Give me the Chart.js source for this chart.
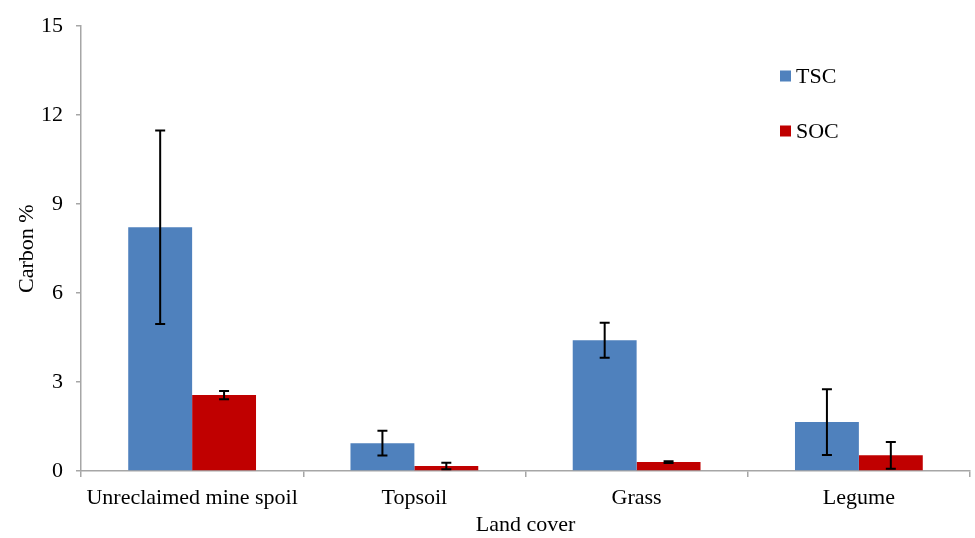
<!DOCTYPE html>
<html>
<head>
<meta charset="utf-8">
<script src="https://cdn.jsdelivr.net/npm/chart.js@4/dist/chart.umd.min.js"></script>
<style>
  html, body { margin: 0; padding: 0; background: #fff; }
  #wrap { width: 975px; height: 538px; }
</style>
</head>
<body>
<div id="wrap"><canvas id="c" width="975" height="538"></canvas></div>
<script>
// Land cover categories and carbon content (%)
const categories = ['Unreclaimed mine spoil', 'Topsoil', 'Grass', 'Legume'];
const tscValues = [8.22, 0.94, 4.41, 1.65];
const tscErrors = [3.26, 0.42, 0.59, 1.11];
const socValues = [2.56, 0.17, 0.30, 0.53];
const socErrors = [0.14, 0.11, 0.03, 0.45];
const yTicks = [0, 3, 6, 9, 12, 15];

const FONT = '"Liberation Serif", "Times New Roman", serif';
const FONT_SIZE = 22;
const AXIS_GREY = '#a6a6a6';

// Draws symmetric error bars using each dataset's errors array
const errorBars = {
  id: 'errorBars',
  afterDatasetsDraw(chart) {
    const ctx = chart.ctx;
    const y = chart.scales.y;
    ctx.save();
    ctx.strokeStyle = '#000';
    ctx.lineWidth = 2;
    chart.data.datasets.forEach((ds, di) => {
      const meta = chart.getDatasetMeta(di);
      meta.data.forEach((bar, i) => {
        const v = ds.data[i], e = ds.errors[i];
        const x = bar.x;
        const yTop = y.getPixelForValue(v + e);
        const yBot = y.getPixelForValue(v - e);
        ctx.beginPath();
        ctx.moveTo(x, yTop); ctx.lineTo(x, yBot);
        ctx.moveTo(x - 5, yTop); ctx.lineTo(x + 5, yTop);
        ctx.moveTo(x - 5, yBot); ctx.lineTo(x + 5, yBot);
        ctx.stroke();
      });
    });
    ctx.restore();
  }
};

// Legend drawn inside the plot area, stacked vertically
const insideLegend = {
  id: 'insideLegend',
  afterDraw(chart) {
    const ctx = chart.ctx;
    const x0 = 780;
    const rows = [76, 131];
    ctx.save();
    ctx.font = FONT_SIZE + 'px ' + FONT;
    ctx.textBaseline = 'middle';
    chart.data.datasets.forEach((ds, i) => {
      const cy = rows[i];
      ctx.fillStyle = ds.backgroundColor;
      ctx.fillRect(x0, cy - 5.5, 11, 11);
      ctx.fillStyle = '#000';
      ctx.fillText(ds.label, x0 + 16, cy + 1);
    });
    ctx.restore();
  }
};

new Chart(document.getElementById('c'), {
  type: 'bar',
  data: {
    labels: categories,
    datasets: [
      { label: 'TSC', data: tscValues, errors: tscErrors, backgroundColor: '#4F81BD' },
      { label: 'SOC', data: socValues, errors: socErrors, backgroundColor: '#C00000' }
    ]
  },
  options: {
    responsive: false,
    animation: false,
    devicePixelRatio: 1,
    layout: { padding: { top: 18, right: 5, left: 14, bottom: 0 } },
    datasets: { bar: { categoryPercentage: 0.575, barPercentage: 1.0 } },
    plugins: {
      legend: { display: false },
      tooltip: { enabled: false }
    },
    scales: {
      x: {
        offset: true,
        grid: {
          offset: true,
          drawOnChartArea: false,
          drawTicks: true,
          tickLength: 6,
          color: AXIS_GREY,
          lineWidth: 1.5
        },
        border: { color: AXIS_GREY, width: 1.5 },
        ticks: { color: '#000', font: { family: FONT, size: FONT_SIZE }, padding: 8, maxRotation: 0 },
        title: { display: true, text: 'Land cover', color: '#000', font: { family: FONT, size: FONT_SIZE }, padding: { top: 2, bottom: 0 } },
        afterFit(s) { s.height = 67; }
      },
      y: {
        min: 0,
        max: 15,
        afterBuildTicks(s) { s.ticks = yTicks.map(v => ({ value: v })); },
        grid: {
          drawOnChartArea: false,
          drawTicks: true,
          tickLength: 5,
          color: AXIS_GREY,
          lineWidth: 1.5
        },
        border: { color: AXIS_GREY, width: 1.5 },
        ticks: { color: '#000', font: { family: FONT, size: FONT_SIZE }, padding: 13 },
        title: { display: true, text: 'Carbon %', color: '#000', font: { family: FONT, size: FONT_SIZE }, padding: { top: 0, bottom: 4 } },
        afterFit(s) { s.width = 67; }
      }
    }
  },
  plugins: [errorBars, insideLegend]
});
</script>
</body>
</html>
